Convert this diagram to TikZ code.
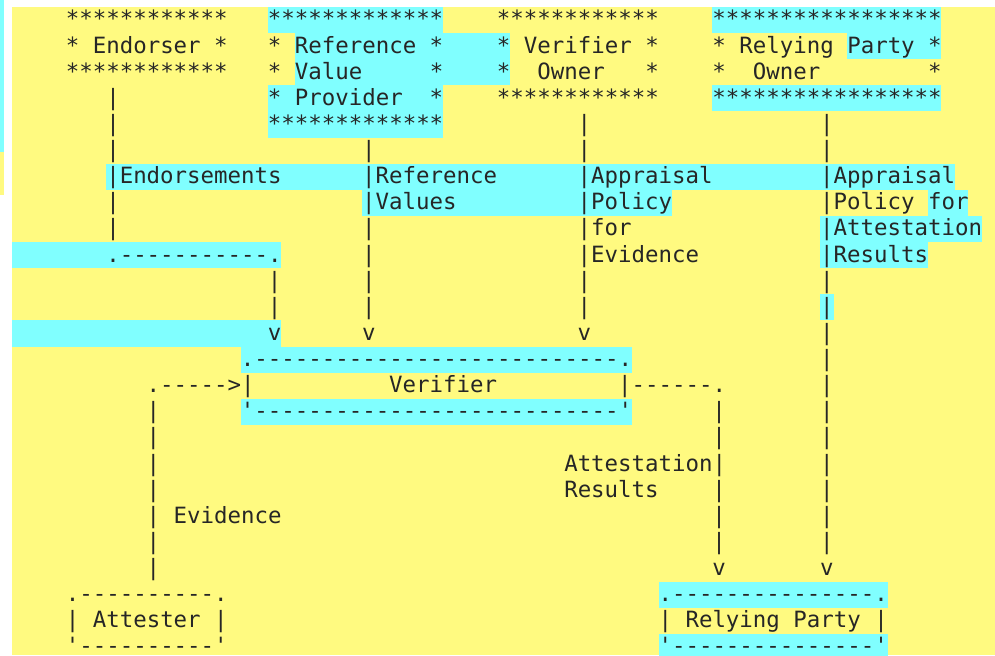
\documentclass[tikz,border=0pt]{standalone}
\usepackage{fontspec}
\setmonofont{DejaVu Sans Mono}
\definecolor{pyel}{HTML}{FFFA80}
\definecolor{pcyan}{HTML}{80FFFF}
\definecolor{ink}{HTML}{262626}

\begin{document}
\begin{tikzpicture}[x=13.47pt,y=-26.12pt,
		asc/.style={anchor=base west,inner sep=0pt,outer sep=0pt,yshift=-20pt,text=ink,
			font=\ttfamily\fontsize{22.4pt}{26pt}\selectfont}]
		\useasboundingbox (-4.890,-0.268) rectangle (68.977,24.809);
		\fill[white] (-4.890,-0.268) rectangle (68.977,24.809);
		\fill[pyel] (-4,0) rectangle (68.977,24.809);
		\fill[pcyan] (-4.890,-0.268) rectangle (-4.556,5.55);
		\fill[pyel] (-4.890,5.55) rectangle (-4.556,7.2);
		%highlights
		\foreach \a/\b/\r in {15/27/0, 48/64/0, 17/32/1, 58/64/1, 17/32/2, 15/27/3, 48/64/3,
			15/27/4, 3/65/6, 22/44/7, 64/66/7, 56/67/8, -4/15/9, 56/63/9, 56/56/11,
			-4/15/12, 13/41/13, 13/41/15, 44/60/22, 44/60/24}
		\fill[pcyan] (\a,\r) rectangle (\b+1,\r+1);
		%owners
		\node[asc] (endorser-t) at (0,0) {************};
		\node[asc] (endorser) at (0,1) {* Endorser *};
		\node[asc] (endorser-b) at (0,2) {************};
		\node[asc] (refprov-t) at (15,0) {*************};
		\node[asc] (refprov) at (15,1) {* Reference *};
		\node[asc] (refprov-2) at (15,2) {* Value~~~~~*};
		\node[asc] (refprov-3) at (15,3) {* Provider~~*};
		\node[asc] (refprov-b) at (15,4) {*************};
		\node[asc] (verowner-t) at (32,0) {************};
		\node[asc] (verowner) at (32,1) {* Verifier *};
		\node[asc] (verowner-2) at (32,2) {*~~Owner~~~*};
		\node[asc] (verowner-b) at (32,3) {************};
		\node[asc] (rpowner-t) at (48,0) {*****************};
		\node[asc] (rpowner) at (48,1) {* Relying Party *};
		\node[asc] (rpowner-2) at (48,2) {*~~Owner~~~~~~~~*};
		\node[asc] (rpowner-b) at (48,3) {*****************};
		%roles
		\node[asc] (verifier-t) at (13,13) {.---------------------------.};
		\node[asc] (evin) at (6,14) {.----->|};
		\node[asc] (verifier) at (24,14) {Verifier};
		\node[asc] (arout) at (41,14) {|------.};
		\node[asc] (verifier-b) at (13,15) {'---------------------------'};
		\node[asc] (attester-t) at (0,22) {.----------.};
		\node[asc] (attester) at (0,23) {| Attester |};
		\node[asc] (attester-b) at (0,24) {'----------'};
		\node[asc] (rp-t) at (44,22) {.---------------.};
		\node[asc] (rp) at (44,23) {| Relying Party |};
		\node[asc] (rp-b) at (44,24) {'---------------'};
		%labels
		\node[asc] (endorsements) at (3,6) {|Endorsements};
		\node[asc] (endbend) at (3,9) {.-----------.};
		\node[asc] (refval) at (22,6) {|Reference};
		\node[asc] (refval-2) at (22,7) {|Values};
		\node[asc] (apev) at (38,6) {|Appraisal};
		\node[asc] (apev-2) at (38,7) {|Policy};
		\node[asc] (apev-3) at (38,8) {|for};
		\node[asc] (apev-4) at (38,9) {|Evidence};
		\node[asc] (apar) at (56,6) {|Appraisal};
		\node[asc] (apar-2) at (56,7) {|Policy for};
		\node[asc] (apar-3) at (56,8) {|Attestation};
		\node[asc] (apar-4) at (56,9) {|Results};
		\node[asc] (attres) at (37,17) {Attestation|};
		\node[asc] (attres-2) at (37,18) {Results};
		\node[asc] (evidence) at (6,19) {| Evidence};
		%lines and heads
		\foreach \c/\r in {3/3, 3/4, 3/5, 3/7, 3/8, 22/5, 22/8, 22/9, 22/10, 22/11,
			38/4, 38/5, 38/10, 38/11, 15/10, 15/11, 56/4, 56/5, 56/10, 56/11, 56/12,
			56/13, 56/14, 56/15, 56/16, 56/17, 56/18, 56/19, 56/20, 6/15, 6/16, 6/17,
			6/18, 6/20, 6/21, 48/15, 48/16, 48/18, 48/19, 48/20}
		\node[asc] (bar\c-\r) at (\c,\r) {|};
		\foreach \c/\r in {15/12, 22/12, 38/12, 48/21, 56/21}
		\node[asc] (head\c-\r) at (\c,\r) {v};
		\end{tikzpicture}
\end{document}
